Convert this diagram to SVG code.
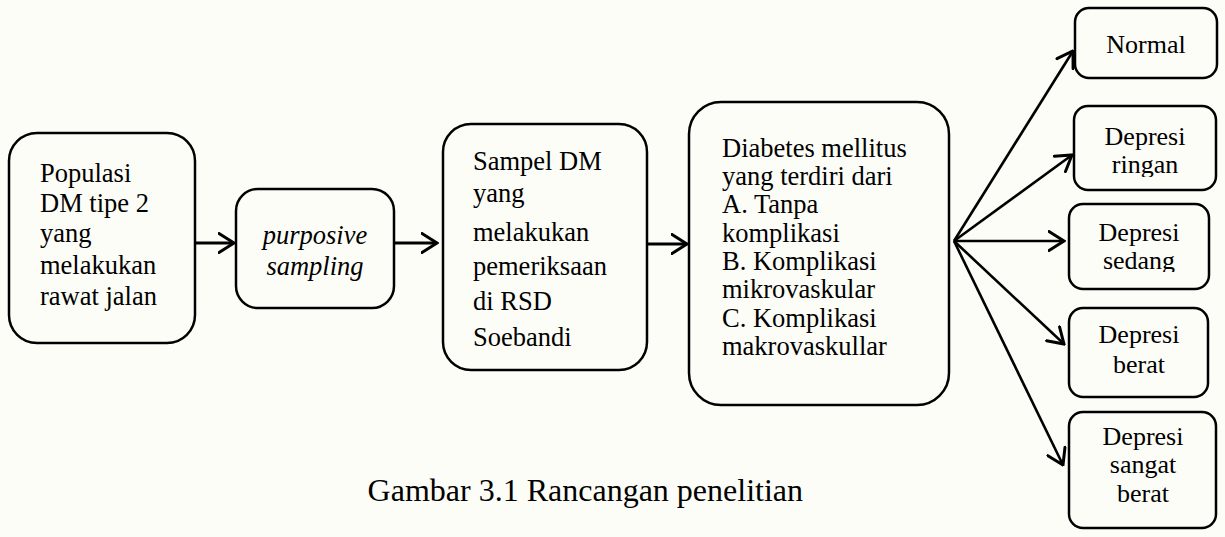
<svg xmlns="http://www.w3.org/2000/svg" width="1225" height="537" viewBox="0 0 1225 537">
<style>
.box{fill:none;stroke:#000;stroke-width:2.5}
.t{font-family:"Liberation Serif","Times New Roman",serif;font-size:26.5px;fill:#000}
.r{font-size:26px}
.c{text-anchor:middle}
.i{font-style:italic}
.main{stroke:#000;stroke-width:3;fill:none}
.fan{stroke:#000;stroke-width:2.6;fill:none}
</style>
<defs>
<marker id="ah" viewBox="0 0 18 22" refX="16.5" refY="11" markerWidth="18" markerHeight="22" markerUnits="userSpaceOnUse" orient="auto">
<path d="M1.5,1.5 L16.5,11 L1.5,20.5" fill="none" stroke="#000" stroke-width="3" stroke-linecap="round" stroke-linejoin="miter"/>
</marker>
<clipPath id="clipR"><rect x="1074" y="106" width="142" height="71"/></clipPath>
<clipPath id="clipS"><rect x="1069" y="204" width="140" height="68"/></clipPath>
<clipPath id="clipSB"><rect x="1069" y="412" width="147" height="92"/></clipPath>
</defs>
<rect x="0" y="0" width="1225" height="537" fill="#fdfdf7"/>

<g id="n1">
<rect class="box" x="9" y="133" width="186" height="210" rx="28"/>
<text class="t" x="40" y="182">Populasi</text>
<text class="t" x="40" y="212">DM tipe 2</text>
<text class="t" x="40" y="242">yang</text>
<text class="t" x="40" y="274">melakukan</text>
<text class="t" x="40" y="305">rawat jalan</text>
</g>
<g id="n2">
<rect class="box" x="236" y="189" width="158" height="119" rx="22"/>
<text class="t c i" x="315" y="244">purposive</text>
<text class="t c i" x="315" y="275">sampling</text>
</g>
<g id="n3">
<rect class="box" x="443" y="124" width="204" height="246" rx="28"/>
<text class="t" x="473" y="170">Sampel DM</text>
<text class="t" x="473" y="202">yang</text>
<text class="t" x="473" y="241">melakukan</text>
<text class="t" x="473" y="275">pemeriksaan</text>
<text class="t" x="473" y="310">di RSD</text>
<text class="t" x="473" y="346">Soebandi</text>
</g>
<g id="n4">
<rect class="box" x="689" y="102" width="260" height="303" rx="32"/>
<text class="t" x="722" y="157">Diabetes mellitus</text>
<text class="t" x="722" y="185">yang terdiri dari</text>
<text class="t" x="722" y="213">A. Tanpa</text>
<text class="t" x="722" y="242">komplikasi</text>
<text class="t" x="722" y="270">B. Komplikasi</text>
<text class="t" x="722" y="298">mikrovaskular</text>
<text class="t" x="722" y="327">C. Komplikasi</text>
<text class="t" x="722" y="355">makrovaskullar</text>
</g>
<g id="n5">
<rect class="box" x="1075" y="8" width="142" height="70" rx="14"/>
<text class="t r c" x="1146" y="53">Normal</text>
</g>
<g id="n6">
<rect class="box" x="1074" y="106" width="142" height="84" rx="14"/>
<g clip-path="url(#clipR)">
<text class="t r c" x="1145" y="145">Depresi</text>
<text class="t r c" x="1145" y="173">ringan</text>
</g>
</g>
<g id="n7">
<rect class="box" x="1069" y="204" width="140" height="85" rx="14"/>
<g clip-path="url(#clipS)">
<text class="t r c" x="1139" y="241">Depresi</text>
<text class="t r c" x="1139" y="269">sedang</text>
</g>
</g>
<g id="n8">
<rect class="box" x="1069" y="308" width="139" height="89" rx="14"/>
<text class="t r c" x="1139" y="343">Depresi</text>
<text class="t r c" x="1139" y="373">berat</text>
</g>
<g id="n9">
<rect class="box" x="1069" y="412" width="147" height="116" rx="14"/>
<g clip-path="url(#clipSB)">
<text class="t r c" x="1143" y="445">Depresi</text>
<text class="t r c" x="1143" y="473">sangat</text>
<text class="t r c" x="1143" y="502">berat</text>
</g>
</g>

<g id="connectors">
<line class="main" x1="195" y1="243" x2="234" y2="243" marker-end="url(#ah)"/>
<line class="main" x1="394" y1="243" x2="437" y2="243" marker-end="url(#ah)"/>
<line class="main" x1="647" y1="244" x2="687" y2="244" marker-end="url(#ah)"/>
<line class="fan" x1="954" y1="241" x2="1073" y2="51" marker-end="url(#ah)"/>
<line class="fan" x1="954" y1="241" x2="1072" y2="155" marker-end="url(#ah)"/>
<line class="fan" x1="954" y1="241" x2="1064" y2="241" marker-end="url(#ah)"/>
<line class="fan" x1="954" y1="241" x2="1064" y2="344" marker-end="url(#ah)"/>
<line class="fan" x1="954" y1="241" x2="1063" y2="465" marker-end="url(#ah)"/>
</g>

<text class="t" x="803" y="501" style="font-size:32px;text-anchor:end">Gambar  3.1 Rancangan penelitian</text>
</svg>
